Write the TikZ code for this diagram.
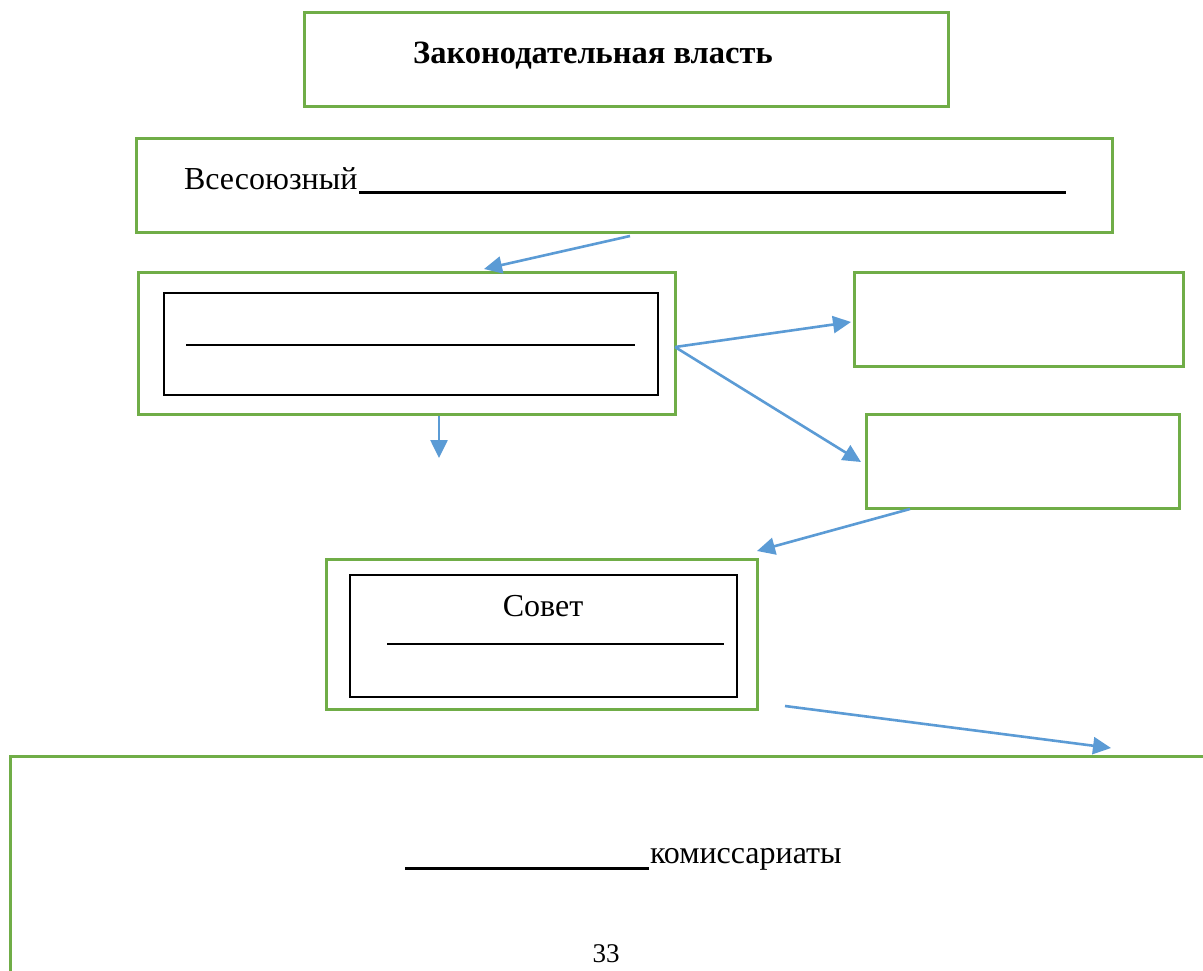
\documentclass[tikz,border=0pt]{standalone}
\usepackage{fontspec}
\setmainfont{Liberation Serif}
\usetikzlibrary{arrows.meta,calc}
\definecolor{grn}{HTML}{70AD47}
\definecolor{blu}{HTML}{5B9BD5}
\tikzset{
  gbox/.style={draw=grn,line width=3pt,inner sep=0pt,outer sep=0pt,anchor=north west,rectangle},
  kbox/.style={draw=black,line width=2pt,inner sep=0pt,outer sep=0pt,anchor=north west,rectangle},
  arr/.style={draw=blu,line width=2.6pt,-{Triangle[length=18pt,width=17pt]}},
  txt/.style={font=\fontsize{32}{38}\selectfont,inner sep=0pt,outer sep=0pt},
  ulthick/.style={line width=3pt},
  ulthin/.style={line width=1.5pt},
}
\begin{document}
\begin{tikzpicture}[x=1pt,y=-1pt]
\useasboundingbox (0,0) rectangle (1203,970);
\clip (0,0) rectangle (1203,970);
\fill[white] (0,0) rectangle (1203,970);

% boxes
\node[gbox,minimum width=644pt,minimum height=94pt] (A) at (304,12) {};
\node[gbox,minimum width=976pt,minimum height=94pt] (B) at (136,138) {};
\node[gbox,minimum width=537pt,minimum height=142pt] (C) at (138,272) {};
\node[kbox,minimum width=494pt,minimum height=102pt] (Ci) at (164,293) {};
\node[gbox,minimum width=329pt,minimum height=94pt] (D) at (854,272) {};
\node[gbox,minimum width=313pt,minimum height=94pt] (E) at (866,414) {};
\node[gbox,minimum width=431pt,minimum height=150pt] (F) at (326,559) {};
\node[kbox,minimum width=387pt,minimum height=122pt] (Fi) at (350,575) {};
\node[gbox,minimum width=1220pt,minimum height=260pt] (G) at (10,756) {};

% texts
\node[txt,font=\fontsize{32.5}{38}\selectfont,anchor=base] (tA) at (593,63) {\bfseries Законодательная власть};
\node[txt,anchor=base west] (tB) at (184,189) {Всесоюзный};
\draw[ulthick] ($(tB.base east)+(2,3)$) -- (1066,192);
\draw[ulthin] (186,345) -- (635,345);
\node[txt,anchor=base] (tF) at (543,616) {Совет};
\draw[ulthin] (387,644) -- (724,644);
\node[txt,anchor=base west] (tG) at (650,863) {комиссариаты};
\draw[ulthick] (405,868) -- ($(tG.base west)+(-1,5)$);
\node[txt,font=\fontsize{27}{32}\selectfont,anchor=base] (pg) at (606,962) {33};

% connectors
\coordinate (a1s) at (630,236);
\coordinate (a1e) at (484,269);
\coordinate (a2s) at (439,416);
\coordinate (a2e) at (439,458);
\coordinate (a3s) at (675,347);
\coordinate (a3e) at (851,322);
\coordinate (a4s) at (675,347);
\coordinate (a4e) at (861,462);
\coordinate (a5s) at (910,509);
\coordinate (a5e) at (757,551);
\coordinate (a6s) at (785,706);
\coordinate (a6e) at (1111,748);
\draw[arr] (a1s) -- (a1e);
\draw[arr] (a2s) -- (a2e);
\draw[arr] (a3s) -- (a3e);
\draw[arr] (a4s) -- (a4e);
\draw[arr] (a5s) -- (a5e);
\draw[arr] (a6s) -- (a6e);
\end{tikzpicture}
\end{document}
